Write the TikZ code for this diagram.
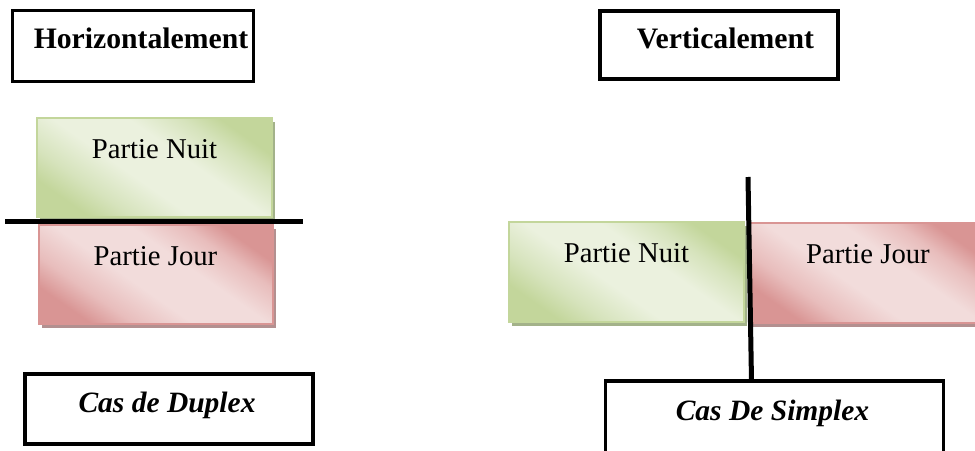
\documentclass[tikz,border=0pt]{standalone}
\usepackage{fontspec}
\setmainfont{Liberation Serif}
\usetikzlibrary{shadows}
\definecolor{gdark}{HTML}{C3D69B}
\definecolor{gmid}{HTML}{D6E3BC}
\definecolor{glight}{HTML}{EBF1DE}
\definecolor{gborder}{HTML}{C3D69B}
\definecolor{gshadow}{HTML}{A3B28A}
\definecolor{pdark}{HTML}{D99594}
\definecolor{pmid}{HTML}{E8BDBC}
\definecolor{plight}{HTML}{F2DCDB}
\definecolor{pborder}{HTML}{D99594}
\definecolor{pshadow}{HTML}{B39090}
\pgfdeclarehorizontalshading{gband}{100bp}{color(0bp)=(gdark); color(25bp)=(gdark); color(33bp)=(gmid); color(44bp)=(glight); color(58bp)=(glight); color(68bp)=(gmid); color(75bp)=(gdark); color(100bp)=(gdark)}
\pgfdeclarehorizontalshading{pband}{100bp}{color(0bp)=(pdark); color(25bp)=(pdark); color(33bp)=(pmid); color(44bp)=(plight); color(58bp)=(plight); color(68bp)=(pmid); color(75bp)=(pdark); color(100bp)=(pdark)}
\tikzset{
  headbox/.style={draw=black, line width=3.5pt, inner sep=0pt, fill=white},
  headtxt/.style={anchor=base, inner sep=0pt, font=\fontsize{29.7}{34}\selectfont\bfseries},
  casetxt/.style={anchor=base, inner sep=0pt, font=\fontsize{29.5}{34}\selectfont\bfseries\itshape},
  nuitbox/.style={draw=gborder, line width=2pt, inner sep=0pt, shading=gband, shading angle=55,
    drop shadow={shadow xshift=3pt, shadow yshift=-4pt, fill=gshadow, opacity=1}},
  jourbox/.style={draw=pborder, line width=2pt, inner sep=0pt, shading=pband, shading angle=55,
    drop shadow={shadow xshift=3pt, shadow yshift=-4pt, fill=pshadow, opacity=1}},
  parttxt/.style={anchor=base, inner sep=0pt, font=\fontsize{28.7}{33}\selectfont},
  divider/.style={line width=5pt, black}
}
\begin{document}
\begin{tikzpicture}[x=1pt, y=-1pt]
\useasboundingbox (0,0) rectangle (975,450);
\clip (0,0) rectangle (975,450);
% headings
\node[headbox, minimum width=241pt, minimum height=71pt] (hbox) at (133,46) {};
\node[headtxt] (htxt) at (141,48) {Horizontalement};
\node[headbox, minimum width=238pt, minimum height=68pt] (vbox) at (719,45) {};
\node[headtxt] (vtxt) at (725.5,48) {Verticalement};
% left: duplex
\node[nuitbox, minimum width=235pt, minimum height=99pt] (nuitL) at (154.5,167.5) {};
\node[parttxt] (nuitLt) at (154.5,158) {Partie Nuit};
\node[jourbox, minimum width=234pt, minimum height=99pt] (jourL) at (156,274.5) {};
\node[parttxt] (jourLt) at (155.5,265) {Partie Jour};
\coordinate (hl) at (5,221.5);
\coordinate (hr) at (303,221.5);
\draw[divider] (hl) -- (hr);
\node[headbox, minimum width=288pt, minimum height=70pt] (dup) at (169,409) {};
\node[casetxt] (duptxt) at (167,412) {Cas de Duplex};
% right: simplex
\node[nuitbox, minimum width=235pt, minimum height=100pt] (nuitR) at (626.5,272) {};
\node[parttxt] (nuitRt) at (626.5,262) {Partie Nuit};
\node[jourbox, minimum width=236pt, minimum height=100pt] (jourR) at (868,273) {};
\node[parttxt] (jourRt) at (868,263) {Partie Jour};
\node[headbox, minimum width=338pt, minimum height=88pt] (sim) at (774.5,425) {};
\node[casetxt] (simtxt) at (772.5,420) {Cas De Simplex};
\coordinate (vt) at (748,177);
\coordinate (vb) at (751.5,381);
\draw[divider] (vt) -- (vb);
\end{tikzpicture}
\end{document}
